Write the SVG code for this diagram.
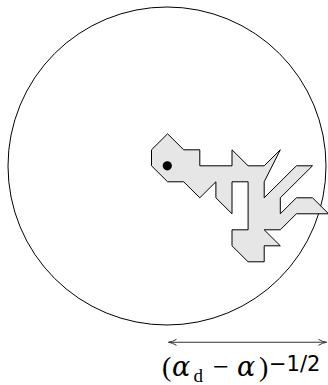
<svg xmlns="http://www.w3.org/2000/svg" width="328" height="385" viewBox="0 0 328 385">
<style>
.circ{fill:none;stroke:#000;stroke-width:1}
.blob{fill:#e6e6e6;stroke:#000;stroke-width:1;stroke-linejoin:miter}
.dim{stroke:#333;stroke-width:1.1;fill:none}
.t{font-family:"Liberation Serif","DejaVu Serif",serif;fill:#000}
.g{font-family:"DejaVu Serif","Liberation Serif",serif;font-style:italic}
.s{font-family:"DejaVu Sans","Liberation Sans",sans-serif;fill:#000}
</style>
<defs>
<marker id="ah" viewBox="0 0 10 10" refX="9" refY="5" markerWidth="10" markerHeight="10" markerUnits="userSpaceOnUse" orient="auto-start-reverse">
<path d="M1,2 Q5,4.5 9,5 Q5,5.5 1,8" fill="none" stroke="#333" stroke-width="1"/>
</marker>
</defs>
<g id="region">
<circle class="circ" cx="167" cy="166" r="159"/>
</g>
<g id="cluster">
<polygon class="blob" transform="translate(151.5,133.8) scale(16.1,16)" style="vector-effect:non-scaling-stroke" points="1,0 2,1 3,1 3,2 5,2 5,1 6,2 7,2 8,1 7,3 7,4 9,2 10,2 8,4 8,5 9,4 10,4 11,5 9,5 8,6 7,6 8,7 7,7 7,8 6,8 5,7 5,6 6,6 6,3 5,3 5,5 4,4 4,3 3,4 2,3 1,3 0,2 0,1"/>
<circle cx="167.3" cy="165.8" r="4.6" fill="#000"/>
</g>
<g id="connectors">
<line class="dim" x1="168.5" y1="342.3" x2="326.5" y2="342.3" marker-start="url(#ah)" marker-end="url(#ah)"/>
</g>
<g id="label">
<text class="t" font-size="28"><tspan x="162" y="376">(</tspan><tspan class="g" x="172" y="376" font-size="27">α</tspan><tspan x="193.5" y="382" font-size="19">d</tspan><tspan x="213" y="376">−</tspan><tspan class="g" x="237" y="376" font-size="27">α</tspan><tspan x="259" y="376">)</tspan></text>
<text class="s" x="269" y="371" font-size="21">−1/2</text>
</g>
</svg>
